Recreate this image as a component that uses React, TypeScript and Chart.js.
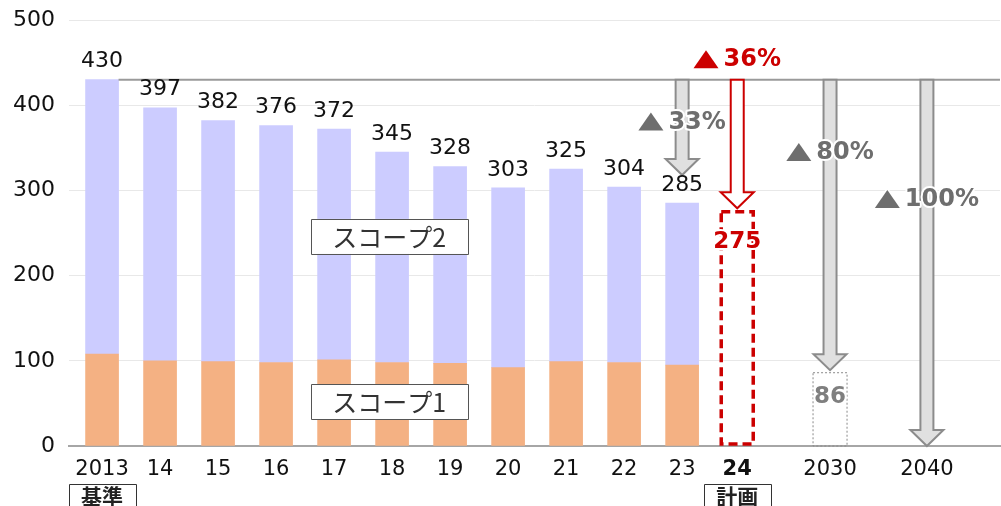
import React, { useEffect, useRef } from 'react';
import { Chart, registerables } from 'chart.js';

Chart.register(...registerables);

// ---- data ----
const years = ['2013', '14', '15', '16', '17', '18', '19', '20', '21', '22', '23'];
const totals = [430, 397, 382, 376, 372, 345, 328, 303, 325, 304, 285];
const scope1 = [108, 100, 99, 98, 101, 98, 97, 92, 99, 98, 95];
const scope2 = totals.map((t, i) => t - scope1[i]);
const xLabels = [...years, '24', '2030', '2040'];
const baseValue = 430;
const plan24 = 275;
const target2030 = 86;
const target2040 = 0;
const reductionLabels = ['33%', '36%', '80%', '100%'];
const scopeNames = ['スコープ1', 'スコープ2'];
const baseTag = '基準';
const planTag = '計画';

// ---- layout (slot positions on the x axis, label anchors) ----
const xSlots = [0, 1, 2, 3, 4, 5, 6, 7, 8, 9, 10, 10.95, 12.55, 14.22];
const arrowTips = [318, 279, 89, target2040];
const pctLabelY = [381, 454, 345, 290];
const scopeLabelPos = [{ x: 4.95, y: 52 }, { x: 4.95, y: 246 }];

const FONT = 'DejaVu Sans';
const JP = '"Noto Sans CJK JP"';
const GREY_TXT = '#6E6E6E';
const RED = '#CC0000';

function drawArrow(ctx: CanvasRenderingContext2D, x: number, y0: number, y1: number, fill: string, stroke: string) {
  const sw = 13, hw = 33, hh = 16;
  ctx.beginPath();
  ctx.moveTo(x - sw / 2, y0);
  ctx.lineTo(x - sw / 2, y1 - hh);
  ctx.lineTo(x - hw / 2, y1 - hh);
  ctx.lineTo(x, y1);
  ctx.lineTo(x + hw / 2, y1 - hh);
  ctx.lineTo(x + sw / 2, y1 - hh);
  ctx.lineTo(x + sw / 2, y0);
  ctx.closePath();
  ctx.fillStyle = fill;
  ctx.fill();
  ctx.lineWidth = 2;
  ctx.strokeStyle = stroke;
  ctx.stroke();
}

function haloText(ctx: CanvasRenderingContext2D, text: string, x: number, y: number, color: string) {
  ctx.lineJoin = 'round';
  ctx.lineWidth = 4;
  ctx.strokeStyle = '#FFFFFF';
  ctx.strokeText(text, x, y);
  ctx.fillStyle = color;
  ctx.fillText(text, x, y);
}

// "▲" + percentage, centred on cx
function pctLabel(ctx: CanvasRenderingContext2D, text: string, cx: number, cy: number, color: string) {
  ctx.font = `bold 24px ${FONT}`;
  const tw = ctx.measureText(text).width;
  const triW = 25, triH = 18, gap = 5;
  const total = triW + gap + tw;
  const left = cx - total / 2;
  ctx.beginPath();
  ctx.moveTo(left, cy + triH / 2);
  ctx.lineTo(left + triW / 2, cy - triH / 2);
  ctx.lineTo(left + triW, cy + triH / 2);
  ctx.closePath();
  ctx.lineJoin = 'round';
  ctx.lineWidth = 3;
  ctx.strokeStyle = '#FFFFFF';
  ctx.stroke();
  ctx.fillStyle = color;
  ctx.fill();
  ctx.textAlign = 'left';
  ctx.textBaseline = 'middle';
  haloText(ctx, text, left + triW + gap, cy + 1, color);
  ctx.textAlign = 'center';
}

const overlay = {
  id: 'overlay',
  afterDatasetsDraw(chart: any) {
    const ctx: CanvasRenderingContext2D = chart.ctx;
    const xs = chart.scales.x;
    const ys = chart.scales.y;
    const area = chart.chartArea;
    const px = (i: number) => xs.getPixelForValue(xSlots[i]);
    const halfBar = 16.5;
    ctx.save();

    // baseline level line
    const yBase = ys.getPixelForValue(baseValue);
    ctx.beginPath();
    ctx.moveTo(px(0) + halfBar, yBase);
    ctx.lineTo(area.right, yBase);
    ctx.lineWidth = 2;
    ctx.strokeStyle = '#9A9A9A';
    ctx.stroke();

    // boxes for 24 and 2030
    const x24 = px(11);
    ctx.setLineDash([9, 5]);
    ctx.lineWidth = 3.5;
    ctx.strokeStyle = RED;
    ctx.strokeRect(x24 - 16, ys.getPixelForValue(plan24), 32, ys.getPixelForValue(0) - ys.getPixelForValue(plan24) - 2);
    const x30 = px(12);
    ctx.setLineDash([2, 2]);
    ctx.lineWidth = 1;
    ctx.strokeStyle = '#8A8A8A';
    ctx.strokeRect(x30 - 17, ys.getPixelForValue(target2030), 34, ys.getPixelForValue(0) - ys.getPixelForValue(target2030));
    ctx.setLineDash([]);

    // arrows
    const arrowX = [px(10), x24, x30, px(13)];
    arrowX.forEach((ax, i) => {
      const red = i === 1;
      drawArrow(ctx, ax, yBase, ys.getPixelForValue(arrowTips[i]), red ? '#FFFFFF' : '#E0E0E0', red ? RED : '#8C8C8C');
    });

    // value labels above bars
    ctx.font = `22px ${FONT}`;
    ctx.textAlign = 'center';
    ctx.textBaseline = 'bottom';
    ctx.fillStyle = '#111111';
    totals.forEach((t, i) => {
      ctx.fillText(String(t), px(i), ys.getPixelForValue(t) - 7);
    });

    // plan / target values
    ctx.font = `bold 23px ${FONT}`;
    ctx.textBaseline = 'middle';
    haloText(ctx, String(plan24), x24, ys.getPixelForValue(plan24) + 30, RED);
    haloText(ctx, String(target2030), x30, ys.getPixelForValue(target2030) + 24, '#7F7F7F');

    // reduction labels
    reductionLabels.forEach((lab, i) => {
      pctLabel(ctx, lab, arrowX[i], ys.getPixelForValue(pctLabelY[i]), i === 1 ? RED : GREY_TXT);
    });

    // scope labels
    ctx.font = `25px ${JP}`;
    ctx.textAlign = 'center';
    ctx.textBaseline = 'middle';
    scopeLabelPos.forEach((p, i) => {
      const cx = xs.getPixelForValue(p.x);
      const cy = ys.getPixelForValue(p.y);
      const w = 157, h = 35;
      ctx.fillStyle = '#FFFFFF';
      ctx.fillRect(cx - w / 2, cy - h / 2, w, h);
      ctx.lineWidth = 1;
      ctx.strokeStyle = '#555555';
      ctx.strokeRect(Math.round(cx - w / 2) + 0.5, Math.round(cy - h / 2) + 0.5, w, h);
      ctx.fillStyle = '#333333';
      ctx.fillText(scopeNames[i], cx, cy + 1);
    });

    // tags under axis
    ctx.font = `bold 21px ${JP}`;
    [[0, baseTag], [11, planTag]].forEach(([i, tag]) => {
      const cx = px(i as number);
      const w = 67;
      const top = 484;
      ctx.lineWidth = 1;
      ctx.strokeStyle = '#333333';
      ctx.strokeRect(Math.round(cx - w / 2) + 0.5, top + 0.5, w, 30);
      ctx.fillStyle = '#222222';
      ctx.textBaseline = 'top';
      ctx.fillText(tag as string, cx, top + 2);
    });

    ctx.restore();
  },
};

export default function App() {
  const ref = useRef<HTMLCanvasElement>(null);
  useEffect(() => {
    if (!ref.current) return;
    const chart = new Chart(ref.current, {
      type: 'bar',
      data: {
        datasets: [
          {
            label: scopeNames[0],
            data: scope1.map((v, i) => ({ x: xSlots[i], y: v })),
            backgroundColor: '#F4B183',
            barThickness: 33,
          },
          {
            label: scopeNames[1],
            data: scope2.map((v, i) => ({ x: xSlots[i], y: v })),
            backgroundColor: '#CCCCFF',
            barThickness: 33,
          },
        ],
      },
      options: {
        responsive: false,
        animation: false,
        layout: { padding: { top: 20, right: 1, left: 0, bottom: 0 } },
        plugins: { legend: { display: false }, tooltip: { enabled: false } },
        scales: {
          x: {
            type: 'linear',
            stacked: true,
            offset: false,
            min: -0.57,
            max: 15.48,
            afterBuildTicks: (scale: any) => {
              scale.ticks = xSlots.map((v) => ({ value: v }));
            },
            afterFit: (scale: any) => {
              scale.height = 60;
            },
            grid: { display: false, drawTicks: false },
            border: { display: true, color: '#A6A6A6', width: 2 },
            ticks: {
              autoSkip: false,
              maxRotation: 0,
              padding: 11,
              color: '#111111',
              font: (c: any) => ({ family: FONT, size: 21, weight: c.index === 11 ? 'bold' : 'normal' }),
              callback: (_v: any, i: number) => xLabels[i],
            },
          },
          y: {
            stacked: true,
            min: 0,
            max: 500,
            afterFit: (scale: any) => {
              scale.width = 69;
            },
            grid: { color: '#E8E8E8', lineWidth: 1, drawTicks: true, tickLength: 14, tickColor: 'rgba(0,0,0,0)' },
            border: { display: false },
            ticks: {
              stepSize: 100,
              padding: 0,
              color: '#111111',
              font: { family: FONT, size: 22 },
            },
          },
        },
      },
      plugins: [overlay],
    });
    return () => chart.destroy();
  }, []);
  return (
    <div style={{ position: 'fixed', left: 0, top: 0, width: 1001, height: 506, background: '#fff' }}>
      <canvas ref={ref} width={1001} height={506} style={{ display: 'block' }} />
    </div>
  );
}
